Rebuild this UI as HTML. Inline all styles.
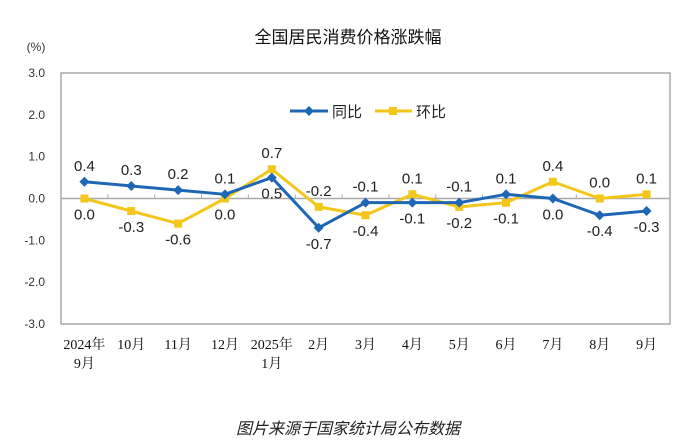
<!DOCTYPE html>
<html><head><meta charset="utf-8"><style>
body{margin:0;background:#fff;width:692px;height:445px;overflow:hidden}
svg{display:block}
</style></head><body>
<svg id="c" width="692" height="445" xmlns="http://www.w3.org/2000/svg" font-family="Liberation Sans, Noto Sans CJK SC, sans-serif">
<text x="348" y="43" text-anchor="middle" font-size="17" fill="#111">全国居民消费价格涨跌幅</text>
<text x="36" y="51" text-anchor="middle" font-size="12" fill="#333">(%)</text>
<rect x="61" y="73" width="609" height="251" fill="none" stroke="#aaa" stroke-width="1.5"/>
<g id="yt"></g><g id="xt"></g><g id="series"></g>
<g>
<g><line x1="290" y1="111" x2="328" y2="111" stroke="#1f67b5" stroke-width="3"/><path d="M309 106 L314 111 L309 116 L304 111Z" fill="#1f67b5"/><text x="332" y="117" font-size="15" fill="#222">同比</text></g>
<g><line x1="375" y1="111" x2="412" y2="111" stroke="#f2c719" stroke-width="3"/><rect x="389" y="107" width="8" height="8" fill="#f2c719"/><text x="416" y="117" font-size="15" fill="#222">环比</text></g>
</g>
<text x="348" y="434" text-anchor="middle" font-size="16" font-style="italic" fill="#222">图片来源于国家统计局公布数据</text>
</svg>
<script>
const categories=[["2024年","9月"],["10月"],["11月"],["12月"],["2025年","1月"],["2月"],["3月"],["4月"],["5月"],["6月"],["7月"],["8月"],["9月"]];
const yoyValues=[0.4,0.3,0.2,0.1,0.5,-0.7,-0.1,-0.1,-0.1,0.1,0.0,-0.4,-0.3];
const momValues=[0.0,-0.3,-0.6,0.0,0.7,-0.2,-0.4,0.1,-0.2,-0.1,0.4,0.0,0.1];
const yTicks=[3,2,1,0,-1,-2,-3];
const NS="http://www.w3.org/2000/svg";
const L=61,R=670,T=73,B=324,ymin=-3,ymax=3;
const bw=(R-L)/categories.length;
const xs=i=>L+bw*(i+0.5);
const ys=v=>B-(v-ymin)/(ymax-ymin)*(B-T);
function mk(t,a,p){const e=document.createElementNS(NS,t);for(const k in a)e.setAttribute(k,a[k]);p.appendChild(e);return e;}
const yt=document.getElementById('yt'),xt=document.getElementById('xt'),sg=document.getElementById('series');
yTicks.forEach(v=>{const t=mk('text',{x:45,y:ys(v)+4,'text-anchor':'end','font-size':12,fill:'#333'},yt);t.textContent=v.toFixed(1);

});
const zl=mk('line',{x1:L,x2:R,y1:ys(0),y2:ys(0),stroke:'#aaa','stroke-width':1.5},xt);


categories.forEach((c,i)=>{
 if(i>0){const tk=mk('line',{x1:L+bw*i,x2:L+bw*i,y1:ys(0),y2:ys(0)-4,stroke:'#aaa'},xt);
 
 }
 c.forEach((s,j)=>{const t=mk('text',{x:xs(i),y:349+j*19,'text-anchor':'middle','font-size':14,fill:'#111','font-family':'Liberation Serif, Noto Serif CJK SC, serif'},xt);t.textContent=s;
 
 });
});
function series(vals,other,color,name,marker){
 const g=mk('g',{},sg);
 
 
 const pl=mk('polyline',{points:vals.map((v,i)=>xs(i)+','+ys(v)).join(' '),fill:'none',stroke:color,'stroke-width':3,'stroke-linejoin':'round'},g);
 
 
 vals.forEach((v,i)=>{
  const x=xs(i),y=ys(v);let m;
  if(marker==='d')m=mk('path',{d:`M${x} ${y-5}L${x+5} ${y}L${x} ${y+5}L${x-5} ${y}Z`,fill:color},g);
  else m=mk('rect',{x:x-4,y:y-4,width:8,height:8,fill:color},g);
  
  
  const above=v>other[i]||(v===other[i]&&name==='yoy');
  const t=mk('text',{x:x,y:above?y-11:y+21,'text-anchor':'middle','font-size':15,fill:'#222'},g);
  t.textContent=v.toFixed(1);
  
  
 });
}
series(momValues,yoyValues,'#f2c719','mom','s');
series(yoyValues,momValues,'#1f67b5','yoy','d');
</script>
</body></html>
